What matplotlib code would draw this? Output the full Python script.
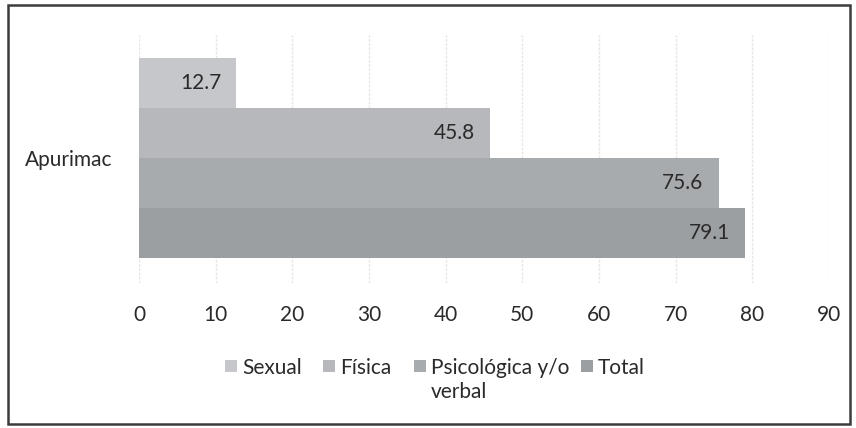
import matplotlib
matplotlib.use("Agg")
import matplotlib.pyplot as plt
from matplotlib.patches import Rectangle

plt.rcParams['font.family'] = ['Lato', 'DejaVu Sans']

category = "Apurimac"
series = ["Sexual", "Física", "Psicológica y/o\nverbal", "Total"]
values = [12.7, 45.8, 75.6, 79.1]
colors = ["#c6c7cb", "#b6b8bc", "#a8abae", "#9b9fa2"]
xticks = [0, 10, 20, 30, 40, 50, 60, 70, 80, 90]

W, H = 856, 428
fig = plt.figure(figsize=(W / 100, H / 100), dpi=100)
ax = fig.add_axes([139 / W, 1 - 283 / H, (829 - 139) / W, (283 - 35) / H])

text_color = "#2a2a2a"
fs = 15
for i, (v, c) in enumerate(zip(values, colors)):
    ax.barh(i, v, height=1.0, color=c, edgecolor="none", zorder=2)
    ax.annotate(f"{v:.1f}", xy=(v, i), xytext=(-11, 0), textcoords="offset points",
                ha="right", va="center", fontsize=fs, color=text_color, zorder=3)

ax.set_xlim(0, 90)
ax.set_ylim(4.0, -0.96)
ax.set_xticks(xticks)
ax.set_xticklabels([str(t) for t in xticks], fontsize=fs, color=text_color)
ax.set_yticks([(len(values) - 1) / 2])
ax.set_yticklabels([category], fontsize=fs, color=text_color)
ax.tick_params(axis="both", length=0)
ax.tick_params(axis="x", pad=16)
ax.tick_params(axis="y", pad=19)
ax.grid(axis="x", color="#e6e6e6", linewidth=1.0, linestyle=(0, (2, 1)), zorder=0)
ax.set_axisbelow(True)
for s in ax.spines.values():
    s.set_visible(False)

# manual legend
leg_marker_x = [225, 323, 414, 581]
leg_y = 366
for sx, name, c in zip(leg_marker_x, series, colors):
    fig.patches.append(Rectangle((sx / W, 1 - (leg_y + 6) / H), 12 / W, 12 / H,
                                 transform=fig.transFigure, facecolor=c,
                                 edgecolor="none"))
    lines = name.split("\n")
    for k, ln in enumerate(lines):
        fig.text((sx + 17) / W, 1 - (leg_y + k * 24) / H, ln, fontsize=fs,
                 color=text_color, ha="left", va="center_baseline")

# outer frame
fig.patches.append(Rectangle((8 / W, 1 - 424 / H), (850 - 8) / W, (424 - 5) / H,
                             transform=fig.transFigure, facecolor="none",
                             edgecolor="#3c3c3c", linewidth=1.8))

fig.savefig("out.png", dpi=100)
